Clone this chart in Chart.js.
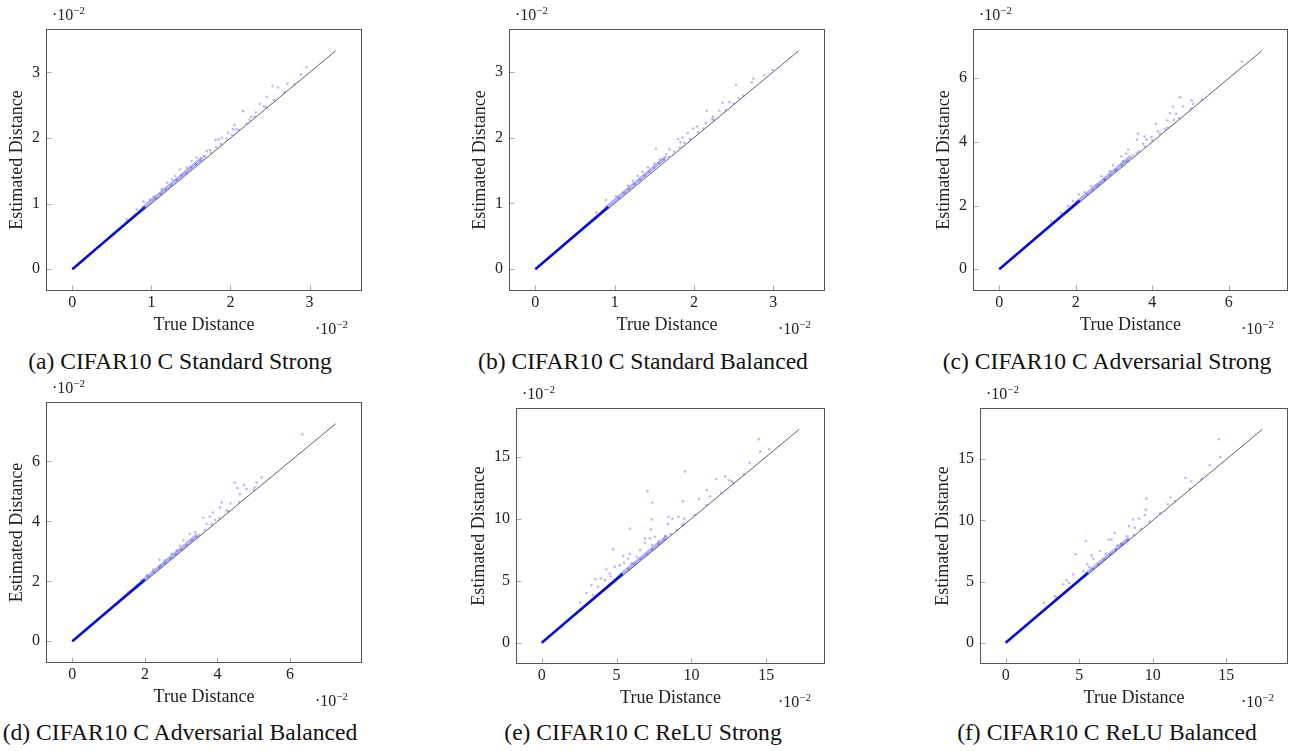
<!DOCTYPE html>
<html>
<head>
<meta charset="utf-8">
<script src="https://cdn.jsdelivr.net/npm/chart.js@4.4.1/dist/chart.umd.min.js"></script>
<style>
  html, body { margin:0; padding:0; background:#fff; }
  body { width:1293px; height:751px; position:relative; overflow:hidden; font-family:'Liberation Serif', serif; color:#222; }
  canvas { position:absolute; }
  .cap { position:absolute; width:500px; text-align:center; font-size:23.6px; line-height:23.6px; white-space:nowrap; color:#111; }
  .mul { position:absolute; font-size:16px; line-height:16px; white-space:nowrap; color:#222; }
  .mul sup { font-size:11px; vertical-align:baseline; position:relative; top:-6px; }
</style>
</head>
<body>
<script>
// ---------------- DATA ----------------
const captions = [
  '(a) CIFAR10 C Standard Strong',
  '(b) CIFAR10 C Standard Balanced',
  '(c) CIFAR10 C Adversarial Strong',
  '(d) CIFAR10 C Adversarial Balanced',
  '(e) CIFAR10 C ReLU Strong',
  '(f) CIFAR10 C ReLU Balanced'
];
const xTitle = 'True Distance';
const yTitle = 'Estimated Distance';
const ticksSmall = [0, 1, 2, 3];
const ticksMid = [0, 2, 4, 6];
const ticksLarge = [0, 5, 10, 15];
// largest distance (end of the y = x reference line), in units of 1e-2
const diagMax = [3.33, 3.32, 6.86, 7.26, 17.2, 17.45];
// dense, nearly solid band of points close to the origin
const solidBand = [
  [[0, 0], [0.92, 0.95]],
  [[0, 0], [0.92, 0.95]],
  [[0, 0], [2.1, 2.16]],
  [[0, 0], [2.0, 2.06]],
  [[0, 0], [5.4, 5.55]],
  [[0, 0], [5.6, 5.72]]
];
// lighter band continuing along the diagonal
const hazeBand = [
  [[0.88, 0.92], [1.65, 1.70]],
  [[0.88, 0.92], [1.65, 1.71]],
  [[2.0, 2.07], [3.45, 3.55]],
  [[1.9, 1.97], [3.45, 3.55]],
  [[5.2, 5.38], [8.4, 8.6]],
  [[5.4, 5.55], [8.4, 8.55]]
];
const pointsA = [[2.96,3.08],[2.89,2.97],[2.53,2.79],[2.60,2.77],[2.72,2.83],[2.81,2.82],[2.46,2.63],[2.37,2.52],[2.42,2.48],[2.16,2.41],[2.32,2.39],[2.26,2.32],[2.24,2.28],[2.05,2.20],[2.03,2.14],[2.07,2.13],[1.97,2.08],[1.89,2.00],[1.81,1.97],[1.85,1.98],[1.70,1.80],[1.74,1.82],[1.57,1.70],[1.66,1.72],[1.51,1.65],[1.45,1.55],[1.36,1.52],[1.30,1.42],[1.26,1.37],[1.20,1.32],[1.13,1.22],[1.03,1.11],[0.90,1.03],[0.98,1.06],[0.82,0.91],[0.69,0.76],
  [1.05,1.08],[1.12,1.15],[1.18,1.22],[1.25,1.28],[1.32,1.36],[1.38,1.43],[1.44,1.47],[1.50,1.55],[1.56,1.60],[1.62,1.66],[1.68,1.72],[1.75,1.78],[1.82,1.86],[1.88,1.91],[1.95,1.99],[2.02,2.05],[2.10,2.13],[2.20,2.22],[2.30,2.33],[2.45,2.47],[2.55,2.58],[2.68,2.70]];
const pointsB = [[2.99,3.03],[2.89,2.95],[2.75,2.90],[2.73,2.84],[2.53,2.80],[2.56,2.60],[2.36,2.53],[2.45,2.54],[2.16,2.41],[2.32,2.41],[2.24,2.32],[2.23,2.28],[2.15,2.22],[2.04,2.17],[1.99,2.14],[1.92,2.07],[1.86,2.00],[1.80,1.98],[1.83,1.93],[1.52,1.83],[1.69,1.82],[1.65,1.75],[1.57,1.67],[1.50,1.61],[1.42,1.55],[1.35,1.48],[1.29,1.42],[1.23,1.34],[1.17,1.27],[1.02,1.11],[0.89,1.05],[0.77,0.86],
  [1.05,1.08],[1.12,1.16],[1.18,1.22],[1.25,1.29],[1.32,1.36],[1.38,1.42],[1.44,1.48],[1.50,1.54],[1.56,1.61],[1.62,1.66],[1.68,1.71],[1.75,1.79],[1.82,1.85],[1.88,1.92],[1.95,1.98],[2.05,2.08],[2.12,2.14],[2.25,2.27],[2.40,2.42],[2.50,2.52],[2.62,2.64]];
const pointsC = [[6.34,6.52],[4.72,5.40],[4.54,5.11],[5.03,5.30],[5.07,5.19],[4.81,5.11],[4.62,4.88],[4.46,4.90],[4.56,4.69],[4.39,4.67],[4.09,4.57],[4.33,4.40],[4.15,4.33],[3.63,4.26],[3.80,4.17],[3.98,4.15],[3.85,4.07],[3.60,4.07],[3.76,3.94],[3.37,3.76],[3.32,3.63],[3.59,3.65],[3.19,3.55],[3.24,3.39],[2.97,3.26],[3.06,3.13],[2.89,3.08],[2.67,2.92],[2.76,2.82],[2.41,2.61],[2.54,2.62],[2.23,2.42],[2.08,2.35],[1.93,2.14],[1.80,1.98],[1.62,1.77],[1.36,1.51],
  [2.30,2.36],[2.45,2.50],[2.60,2.66],[2.75,2.80],[2.90,2.96],[3.05,3.10],[3.20,3.27],[3.35,3.40],[3.50,3.57],[3.65,3.70],[3.80,3.86],[4.00,4.05],[4.20,4.25],[4.40,4.45],[4.70,4.75],[5.00,5.05],[5.30,5.33]];
const pointsD = [[6.34,6.91],[4.48,5.30],[4.73,5.22],[5.08,5.30],[5.22,5.47],[4.55,5.11],[4.80,5.08],[5.03,5.13],[4.62,4.91],[4.12,4.64],[4.36,4.60],[4.07,4.47],[4.25,4.36],[3.88,4.30],[3.61,4.12],[3.79,4.16],[3.93,4.05],[3.70,3.92],[3.38,3.64],[3.24,3.58],[3.43,3.49],[3.06,3.36],[2.97,3.19],[2.88,3.03],[2.74,2.92],[2.40,2.72],[2.55,2.70],[2.42,2.53],[2.23,2.39],[2.05,2.20],[1.91,2.03],[1.77,1.86],[1.54,1.64],
  [2.10,2.16],[2.25,2.30],[2.40,2.46],[2.55,2.60],[2.70,2.76],[2.85,2.90],[3.00,3.06],[3.15,3.20],[3.30,3.37],[3.50,3.55],[3.65,3.72],[3.85,3.90],[4.05,4.10],[4.30,4.35],[4.60,4.65],[5.00,5.05]];
const pointsE = [[14.5,16.4],[14.6,15.4],[15.2,15.6],[13.9,14.5],[9.58,13.8],[11.66,13.2],[12.26,13.4],[12.53,13.1],[12.7,13.0],[7.07,12.2],[11.03,12.3],[11.25,11.8],[7.38,11.3],[9.42,11.4],[10.5,11.6],[8.46,10.15],[8.72,10.0],[9.13,10.15],[9.53,10.0],[7.34,9.94],[8.42,9.56],[9.36,9.48],[5.89,9.2],[7.30,9.13],[6.89,8.41],[7.23,8.41],[7.56,8.54],[8.23,8.59],[6.89,8.05],[7.38,7.87],[7.79,8.14],[4.77,7.52],[6.56,7.46],[5.44,7.0],[5.89,7.14],[6.34,6.92],[5.77,6.79],[5.50,6.44],[6.0,6.39],[5.21,6.25],[4.88,6.11],[4.54,5.58],[4.32,5.90],[3.94,5.17],[3.58,5.12],[4.21,5.04],[4.61,5.36],[3.31,4.63],[3.76,4.50],[2.98,4.01],[2.58,3.23],[3.42,3.82],
  [5.8,5.95],[6.2,6.35],[6.6,6.75],[7.0,7.15],[7.4,7.5],[7.8,7.95],[8.2,8.3],[8.6,8.75],[9.0,9.1],[9.5,9.6],[10.2,10.3],[11.0,11.1],[12.0,12.1],[12.8,12.9],[13.5,13.6]];
const pointsF = [[14.48,16.64],[14.6,15.19],[13.87,14.51],[12.22,13.47],[12.63,13.2],[9.57,11.78],[11.2,11.87],[11.04,11.32],[9.52,10.88],[8.66,10.07],[9.07,10.15],[9.46,10.42],[8.39,9.52],[8.78,9.41],[7.40,8.97],[5.45,8.31],[7.01,8.43],[7.20,8.43],[8.26,8.70],[7.58,7.96],[7.87,8.10],[5.84,7.14],[4.75,7.23],[6.40,7.50],[5.95,6.87],[6.81,7.28],[5.54,6.41],[5.68,6.19],[5.27,5.86],[4.59,5.59],[3.91,4.77],[4.14,5.10],[4.32,4.88],[3.46,3.73],[3.80,3.87],[2.60,3.24],[3.35,3.79],
  [5.9,6.02],[6.3,6.42],[6.7,6.8],[7.1,7.22],[7.5,7.6],[7.9,8.0],[8.3,8.4],[8.7,8.8],[9.2,9.3],[9.8,9.9],[10.5,10.58],[11.5,11.58],[12.5,12.58],[13.3,13.38]];
const scatterSets = [pointsA, pointsB, pointsC, pointsD, pointsE, pointsF];
const tickSets = [ticksSmall, ticksSmall, ticksMid, ticksMid, ticksLarge, ticksLarge];

// ---------------- LAYOUT ----------------
// plot frame boxes [left, top, right, bottom] in page pixels
const frames = [
  [46, 29, 362, 291], [509, 29, 825, 291], [973, 29, 1288, 291],
  [46, 402, 362, 663], [516, 408, 825, 664], [980, 408, 1288, 664]
];
const yAxisWidth = [46, 46, 46, 46, 54, 54];
const captionCenters = [[180, 370], [643, 370], [1107, 370], [180, 741], [643, 741], [1107, 741]];
const PAD_TOP = 24, PAD_RIGHT = 5, X_AXIS_H = 50;
const FONT = 'Liberation Serif';

const framePlugin = {
  id: 'frameBox',
  afterDatasetsDraw(chart, args, opts) {
    const { ctx, chartArea: a, scales: { x, y } } = chart;
    ctx.save();
    ctx.strokeStyle = '#a8a8a8';
    ctx.lineWidth = 1;
    const l = Math.round(a.left) + 0.5, r = Math.round(a.right) - 0.5;
    const t = Math.round(a.top) + 0.5, b = Math.round(a.bottom) - 0.5;
    (opts.ticks || []).forEach(v => {
      const px = Math.round(x.getPixelForValue(v)) + 0.5;
      ctx.beginPath(); ctx.moveTo(px, b); ctx.lineTo(px, b - 5); ctx.stroke();
      const py = Math.round(y.getPixelForValue(v)) + 0.5;
      ctx.beginPath(); ctx.moveTo(l, py); ctx.lineTo(l + 5, py); ctx.stroke();
    });
    ctx.strokeStyle = '#555';
    ctx.strokeRect(l, t, r - l, b - t);
    ctx.restore();
  }
};

for (let i = 0; i < 6; i++) {
  const [L, T, R, B] = frames[i];
  const W = yAxisWidth[i];
  const cv = document.createElement('canvas');
  const cw = R - L + W + PAD_RIGHT, ch = B - T + PAD_TOP + X_AXIS_H;
  cv.width = cw; cv.height = ch;
  cv.style.left = (L - W) + 'px'; cv.style.top = (T - PAD_TOP) + 'px';
  cv.style.width = cw + 'px'; cv.style.height = ch + 'px';
  document.body.appendChild(cv);

  const m = diagMax[i];
  const lo = -0.1 * m, hi = 1.1 * m;
  const ticks = tickSets[i];
  const tickFont = { family: FONT, size: 16 };
  const titleFont = { family: FONT, size: 18 };

  new Chart(cv, {
    type: 'scatter',
    data: {
      datasets: [
        { data: scatterSets[i].map(p => ({ x: p[0], y: p[1] })), pointRadius: 1.3, pointBorderWidth: 0,
          backgroundColor: 'rgba(40,40,235,0.32)', borderColor: 'rgba(0,0,0,0)' },
        { data: hazeBand[i].map(p => ({ x: p[0], y: p[1] })), showLine: true, pointRadius: 0,
          borderColor: 'rgba(50,50,235,0.38)', borderWidth: 3.5 },
        { data: solidBand[i].map(p => ({ x: p[0], y: p[1] })), showLine: true, pointRadius: 0,
          borderColor: 'rgba(0,0,205,0.95)', borderWidth: 2.6 },
        { data: [{ x: 0, y: 0 }, { x: m, y: m }], showLine: true, pointRadius: 0,
          borderColor: '#3a3a3a', borderWidth: 0.8 }
      ]
    },
    options: {
      responsive: false, animation: false, devicePixelRatio: 1,
      layout: { padding: { left: 0, top: PAD_TOP, right: PAD_RIGHT, bottom: 0 } },
      plugins: { legend: { display: false }, tooltip: { enabled: false }, frameBox: { ticks } },
      scales: {
        x: {
          type: 'linear', min: lo, max: hi,
          afterBuildTicks: ax => { ax.ticks = ticks.map(v => ({ value: v })); },
          afterFit: ax => { ax.height = X_AXIS_H; },
          grid: { display: false, drawTicks: false }, border: { display: false },
          ticks: { padding: 2.5, color: '#222', font: tickFont, maxRotation: 0, autoSkip: false, callback: v => String(v) },
          title: { display: true, text: xTitle, color: '#222', font: titleFont, padding: { top: 0, bottom: 5 } }
        },
        y: {
          type: 'linear', min: lo, max: hi,
          afterBuildTicks: ax => { ax.ticks = ticks.map(v => ({ value: v })); },
          afterFit: ax => { ax.width = W; },
          grid: { display: false, drawTicks: false }, border: { display: false },
          ticks: { padding: 6, color: '#222', font: tickFont, autoSkip: false, callback: v => String(v) },
          title: { display: true, text: yTitle, color: '#222', font: titleFont, padding: { top: 6, bottom: 0 } }
        }
      }
    },
    plugins: [framePlugin]
  });

  // scale multipliers
  const top = document.createElement('div');
  top.className = 'mul';
  top.innerHTML = '·10<sup>−2</sup>';
  top.style.left = (L + 6) + 'px';
  top.style.top = (T - 9 - 13.4) + 'px';
  document.body.appendChild(top);
  const bot = document.createElement('div');
  bot.className = 'mul';
  bot.innerHTML = '·10<sup>−2</sup>';
  bot.style.right = (1293 - (R - 14)) + 'px';
  bot.style.top = (B + 43 - 13.4) + 'px';
  document.body.appendChild(bot);

  const cap = document.createElement('div');
  cap.className = 'cap';
  cap.textContent = captions[i];
  cap.style.left = (captionCenters[i][0] - 250) + 'px';
  cap.style.top = (captionCenters[i][1] - 19.8) + 'px';
  document.body.appendChild(cap);
}
</script>
</body>
</html>
